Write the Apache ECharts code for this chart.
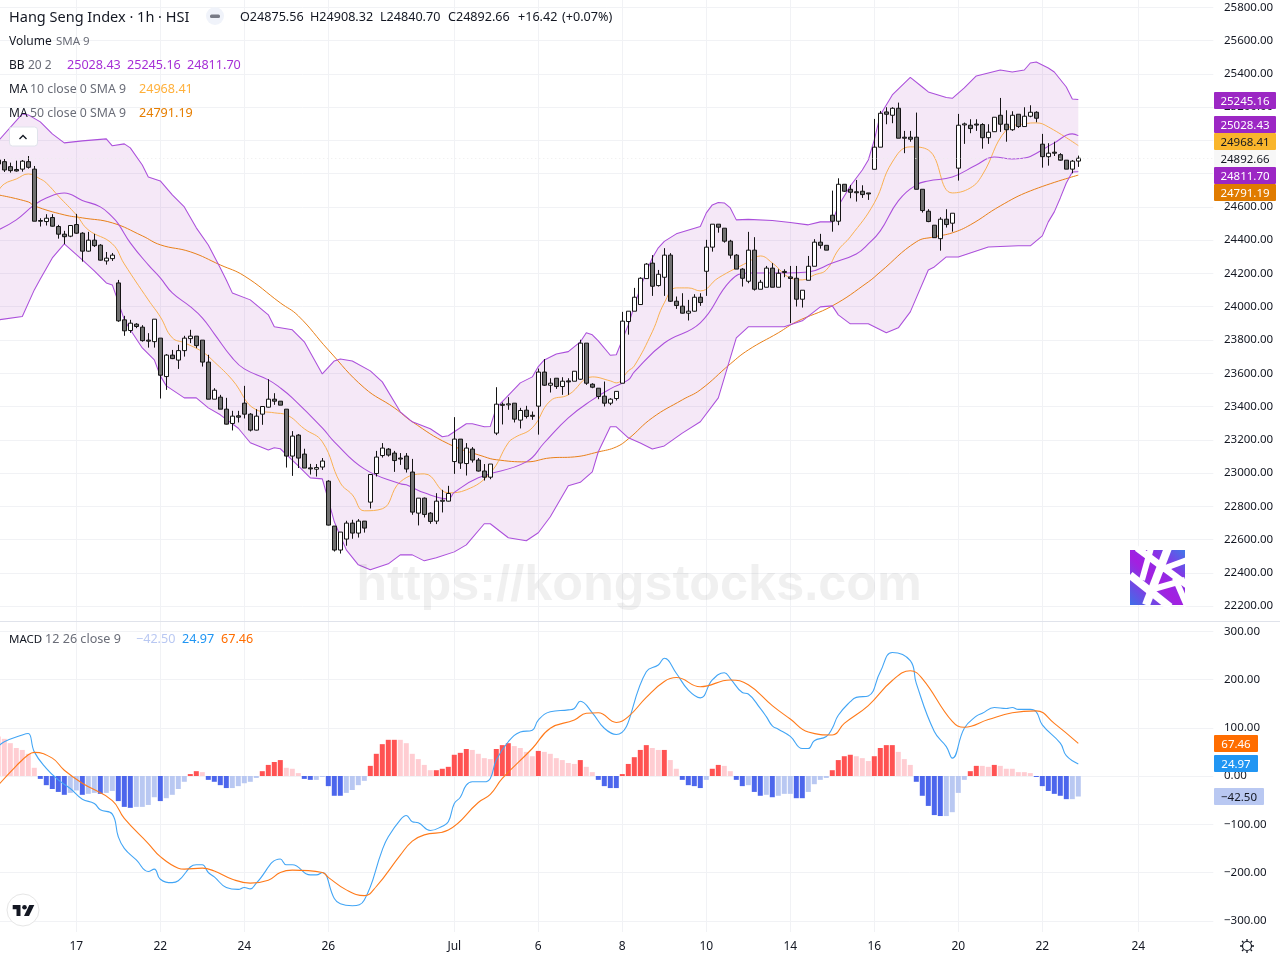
<!DOCTYPE html>
<html><head><meta charset="utf-8">
<style>html,body{margin:0;padding:0;background:#fff}#c{width:1280px;height:960px}</style>
<script src="https://cdn.jsdelivr.net/npm/echarts@6/dist/echarts.min.js"></script>
</head><body><div id="c"></div>
<script>
// [open, close, low, high]
const candles = [
[24882,24858,24846,24894],[24872,24822,24810,24888],[24842,24818,24806,24866],[24825,24816,24812,24878],[24827,24875,24812,24882],[24872,24838,24830,24906],
[24827,24514,24514,24846],[24518,24514,24482,24532],[24512,24532,24488,24556],[24536,24484,24482,24556],[24482,24436,24409,24492],[24436,24421,24376,24456],
[24424,24488,24418,24490],[24494,24442,24438,24558],[24442,24334,24271,24448],[24334,24400,24331,24450],[24400,24367,24359,24438],[24370,24280,24277,24376],
[24275,24292,24253,24329],[24289,24310,24275,24323],[24143,23915,23909,24161],[23921,23855,23825,23945],[23857,23901,23843,23921],[23895,23881,23871,23901],
[23877,23796,23790,23889],[23799,23793,23754,23841],[23790,23925,23754,23925],[23811,23588,23448,23811],[23580,23709,23500,23715],[23709,23688,23685,23740],
[23679,23736,23626,23771],[23736,23811,23700,23825],[23808,23823,23781,23861],[23823,23766,23751,23823],[23799,23667,23640,23799],[23667,23444,23444,23711],
[23444,23498,23444,23510],[23456,23384,23384,23470],[23384,23294,23292,23452],[23298,23342,23256,23374],[23344,23336,23304,23374],[23420,23354,23328,23524],
[23354,23258,23250,23360],[23258,23342,23256,23384],[23354,23400,23290,23400],[23396,23444,23394,23564],[23444,23432,23410,23480],[23432,23408,23408,23432],
[23384,23102,23033,23384],[23102,23222,22983,23252],[23228,23090,23030,23234],[23114,23030,23030,23146],[23031,23025,22991,23055],[23023,23033,22979,23054],
[23036,23072,23019,23090],[22951,22687,22685,22957],[22681,22537,22528,22681],[22537,22645,22516,22645],[22603,22699,22563,22713],[22699,22639,22605,22719],
[22639,22711,22612,22723],[22711,22669,22642,22711],[22825,22991,22787,22991],[22997,23096,22979,23133],[23105,23150,23093,23180],[23144,23108,23099,23150],
[23120,23075,23007,23133],[23090,23084,23049,23120],[23102,23024,23003,23120],[23006,22765,22749,23085],[22759,22849,22685,22849],[22849,22751,22733,22853],
[22759,22709,22695,22765],[22711,22831,22693,22879],[22830,22836,22763,22899],[22831,22877,22829,22923],[23069,23204,22995,23336],[23204,23060,23025,23204],
[23057,23150,22985,23180],[23144,23078,23063,23156],[23078,23012,23009,23090],[23012,22975,22955,23054],[22975,23054,22963,23054],[23240,23414,23228,23516],
[23407,23413,23292,23424],[23410,23416,23380,23456],[23420,23324,23304,23420],[23318,23376,23268,23392],[23378,23340,23328,23404],[23347,23341,23320,23370],
[23402,23607,23231,23628],[23607,23528,23524,23685],[23528,23540,23484,23570],[23570,23520,23506,23570],[23520,23552,23470,23576],[23554,23548,23470,23570],
[23552,23612,23552,23612],[23564,23781,23560,23801],[23781,23540,23530,23781],[23534,23516,23510,23540],[23510,23460,23444,23510],[23462,23420,23400,23550],
[23420,23444,23408,23450],[23448,23491,23436,23492],[23540,23913,23540,23969],[23911,23973,23832,23973],[23973,24057,23973,24113],[24013,24171,24011,24177],
[24169,24256,24169,24262],[24262,24123,24065,24310],[24127,24195,24121,24221],[24177,24310,24065,24352],[24310,24033,24029,24322],[24033,24007,23987,24061],
[24003,23961,23959,24081],[23961,23973,23917,24041],[23973,24057,23971,24075],[24057,24025,24005,24081],[24213,24358,24065,24402],[24358,24496,24331,24496],
[24496,24478,24445,24496],[24472,24394,24385,24472],[24394,24310,24289,24402],[24310,24226,24226,24316],[24226,24171,24121,24232],[24153,24340,24141,24450],
[24340,24105,24097,24418],[24105,24147,24105,24161],[24117,24232,24117,24245],[24232,24117,24117,24262],[24117,24201,24117,24225],[24212,24206,24177,24225],
[24179,24170,23901,24245],[24171,24045,24001,24245],[24045,24099,23995,24099],[24159,24243,24159,24305],[24243,24388,24243,24406],[24388,24369,24349,24438],
[24369,24340,24340,24369],[24550,24514,24451,24698],[24514,24736,24490,24772],[24736,24694,24690,24736],[24706,24688,24652,24732],[24691,24685,24632,24762],
[24694,24674,24654,24730],[24684,24678,24642,24684],[24826,24959,24826,25129],[24959,25163,24959,25177],[25171,25157,25097,25199],[25151,25193,25103,25199],
[25193,25013,25013,25227],[25019,25013,24923,25057],[25019,25007,24992,25057],[25019,24706,24706,25167],[24706,24578,24566,24706],[24574,24512,24508,24586],
[24490,24415,24415,24490],[24409,24526,24337,24538],[24526,24494,24476,24586],[24502,24562,24451,24562],[24833,25091,24758,25159],[25093,25099,24979,25107],
[25091,25071,25043,25127],[25098,25092,25057,25127],[25095,25016,24950,25103],[25016,25049,24979,25097],[25052,25139,25051,25139],[25151,25097,25051,25255],
[25097,25064,24992,25181],[25064,25151,25057,25175],[25157,25083,25075,25157],[25083,25145,25083,25199],[25145,25169,25139,25211],[25169,25133,25109,25175],
[24977,24902,24836,25039],[24902,24923,24848,24983],[24929,24923,24906,24992],[24914,24881,24878,24923],[24881,24827,24827,24881],[24827,24875,24802,24882],
[24875.56,24892.66,24840.70,24908.32]];

// Line readings as [bar index, value]
const bbUpper = [[0,24997],[4,25159],[5,25153],[7,25111],[9,25039],[11,24985],[14,24997],[17,25006],[18,25009],[19,24967],[21,24979],[22,24955],[24,24852],[25,24780],[27,24756],[29,24672],[31,24600],[33,24474],[35,24371],[37,24233],[38,24161],[39,24083],[42,24041],[44,23981],[45,23951],[46,23879],[49,23861],[51,23789],[54,23596],[56,23674],[57,23686],[59,23674],[62,23614],[64,23548],[67,23368],[69,23308],[72,23266],[74,23218],[75,23224],[78,23296],[79,23296],[81,23278],[82,23280],[83,23392],[87,23542],[89,23578],[90,23640],[91,23680],[93,23716],[95,23730],[97,23788],[98,23843],[99,23831],[100,23795],[102,23708],[103,23711],[104,23801],[105,23891],[106,24005],[107,24113],[108,24209],[109,24293],[110,24354],[111,24393],[113,24438],[117,24482],[118,24564],[119,24612],[120,24627],[121,24624],[122,24594],[123,24522],[125,24525],[129,24518],[132,24506],[135,24492],[137,24510],[139,24510],[140,24606],[142,24726],[144,24822],[145,24882],[146,25003],[147,25153],[148,25213],[149,25273],[152,25379],[154,25321],[155,25291],[158,25258],[159,25253],[161,25315],[163,25387],[167,25423],[169,25411],[171,25423],[172,25465],[173,25471],[175,25435],[176,25411],[178,25321],[179,25249],[180,25245.16]];
const bbLower = [[0,23921],[4,23941],[6,24101],[7,24167],[9,24293],[11,24378],[14,24281],[16,24215],[18,24143],[19,24131],[20,24029],[21,23921],[22,23861],[24,23752],[26,23680],[27,23584],[28,23524],[31,23452],[33,23452],[35,23392],[37,23350],[40,23269],[42,23182],[45,23139],[46,23152],[47,23146],[50,23043],[52,22971],[54,22965],[55,22839],[56,22707],[58,22538],[60,22448],[62,22418],[65,22454],[67,22508],[69,22508],[71,22472],[73,22490],[76,22526],[78,22568],[81,22695],[82,22695],[85,22611],[88,22593],[90,22641],[92,22737],[95,22923],[97,22944],[99,23007],[100,23128],[102,23278],[103,23278],[105,23212],[107,23181],[109,23145],[111,23163],[114,23240],[117,23308],[120,23452],[122,23692],[123,23813],[125,23879],[131,23879],[134,23915],[137,23999],[139,24005],[140,23951],[142,23897],[145,23897],[147,23861],[148,23843],[150,23873],[152,23969],[153,24053],[155,24221],[156,24239],[158,24299],[160,24299],[165,24359],[170,24367],[172,24366],[174,24426],[175,24510],[176,24570],[177,24654],[178,24744],[179,24810],[180,24811.70]];
const bbBasis = [[0,24462],[3,24522],[6,24612],[8,24654],[11,24684],[14,24639],[17,24600],[19,24540],[20,24498],[22,24384],[25,24251],[27,24173],[29,24083],[32,24000],[34,23933],[36,23837],[39,23692],[41,23626],[45,23560],[47,23512],[49,23452],[54,23272],[56,23188],[61,23025],[67,22935],[68,22929],[71,22881],[75,22845],[76,22884],[80,22971],[88,23067],[91,23182],[95,23332],[99,23440],[102,23506],[105,23560],[106,23608],[111,23782],[117,23903],[122,24155],[125,24203],[131,24203],[135,24209],[139,24263],[143,24317],[145,24377],[147,24456],[150,24636],[153,24732],[155,24756],[159,24780],[163,24852],[166,24900],[169,24888],[171,24894],[172,24903],[176,24985],[179,25039],[180,25028.43]];
const ma10 = [[0,24696],[1,24738],[3,24768],[5,24798],[7,24768],[8,24744],[10,24666],[13,24552],[15,24462],[19,24378],[21,24257],[25,24041],[27,23939],[29,23813],[31,23783],[34,23729],[36,23668],[39,23560],[43,23380],[46,23362],[48,23350],[51,23266],[54,23188],[57,22941],[59,22869],[61,22773],[64,22785],[67,22947],[71,22995],[75,22881],[78,22899],[82,23001],[85,23182],[86,23212],[89,23272],[92,23434],[95,23470],[99,23578],[102,23554],[103,23542],[105,23614],[106,23644],[109,23849],[111,24023],[113,24113],[115,24113],[117,24095],[120,24173],[125,24269],[127,24305],[129,24263],[132,24173],[134,24161],[136,24191],[138,24221],[140,24341],[142,24420],[146,24624],[149,24870],[152,24961],[155,24942],[159,24684],[162,24714],[164,24792],[168,25063],[171,25099],[173,25105],[175,25081],[180,24968.41]];
const ma50 = [[0,24672],[5,24630],[6,24606],[11,24552],[14,24534],[19,24504],[24,24426],[27,24372],[32,24330],[37,24251],[41,24185],[47,24023],[50,23945],[55,23740],[61,23512],[66,23392],[69,23308],[75,23176],[81,23098],[83,23080],[88,23067],[92,23091],[96,23097],[100,23127],[103,23157],[105,23205],[109,23332],[114,23440],[117,23500],[122,23656],[125,23740],[130,23843],[133,23909],[139,24005],[145,24149],[147,24209],[153,24390],[156,24420],[159,24444],[162,24492],[167,24606],[172,24696],[180,24791.19]];

const macdHist = [82,77,68,58,54,46,17,-6,-19,-27,-33,-39,-35,-30,-39,-37,-35,-37,-35,-31,-52,-64,-66,-64,-64,-60,-44,-52,-46,-39,-27,-12,4,10,8,-8,-12,-19,-25,-25,-21,-15,-12,-4,10,23,29,33,17,15,6,-6,-8,-8,-2,-21,-41,-41,-35,-29,-19,-10,21,46,66,75,75,75,68,46,35,23,12,12,15,19,44,48,56,54,46,37,35,56,64,68,62,58,50,41,52,50,46,37,33,27,25,33,19,8,-8,-21,-25,-25,4,25,39,54,64,58,54,54,33,15,-8,-19,-21,-25,-8,15,23,21,10,-8,-21,-19,-33,-41,-39,-44,-41,-37,-37,-46,-46,-33,-17,-8,-4,12,33,41,44,41,37,31,41,58,64,64,50,35,23,-12,-41,-62,-81,-83,-83,-75,-35,-8,10,21,21,19,23,21,15,15,8,8,6,-2,-21,-31,-37,-41,-48,-48,-42.5];
const histStrong = [7,8,9,10,11,14,17,20,21,22,27,32,33,35,36,37,38,44,45,46,47,51,52,55,56,57,62,63,64,65,66,73,74,75,76,77,78,83,84,85,90,97,100,101,102,103,104,105,106,107,108,111,114,115,116,117,119,120,123,124,126,127,129,133,134,139,140,141,142,146,147,148,149,153,154,155,156,157,162,163,166,173,174,175,176,177,178];
const macdLine = [[0,61],[1,71],[4,85],[5,88],[6,50],[8,16],[10,-8],[12,-26],[14,-48],[16,-57],[17,-70],[19,-79],[20,-126],[21,-150],[23,-174],[25,-198],[26,-193],[27,-214],[29,-221],[30,-217],[33,-184],[34,-184],[35,-200],[36,-209],[38,-231],[40,-235],[41,-231],[42,-234],[43,-222],[47,-172],[48,-184],[49,-184],[52,-205],[53,-205],[54,-200],[56,-254],[57,-265],[59,-269],[61,-257],[64,-153],[65,-126],[67,-91],[68,-82],[69,-95],[70,-97],[72,-113],[74,-104],[75,-95],[76,-57],[77,-44],[78,-19],[79,-12],[81,-12],[82,-5],[83,33],[85,71],[87,91],[89,95],[90,116],[92,133],[95,137],[96,140],[97,155],[99,131],[101,99],[103,86],[108,216],[110,230],[111,244],[113,213],[115,178],[117,162],[119,199],[121,214],[122,202],[124,173],[125,170],[127,140],[128,123],[129,104],[130,97],[132,82],[134,57],[135,57],[136,73],[138,82],[139,99],[140,126],[142,154],[143,163],[145,166],[147,216],[149,256],[152,239],[153,192],[156,92],[158,61],[159,37],[161,99],[163,124],[164,130],[166,142],[168,140],[169,142],[170,138],[172,138],[173,133],[174,106],[177,68],[178,42],[180,24.97]];
const macdSignal = [[0,-19],[3,21],[5,44],[6,49],[9,37],[11,12],[14,-15],[19,-51],[21,-88],[25,-140],[27,-167],[30,-191],[31,-193],[34,-191],[36,-197],[39,-214],[42,-222],[45,-216],[47,-200],[49,-195],[54,-200],[55,-210],[58,-236],[61,-248],[63,-229],[67,-164],[69,-135],[71,-122],[75,-112],[80,-55],[82,-38],[84,-5],[89,57],[92,99],[96,116],[98,130],[100,131],[103,111],[105,123],[108,163],[111,196],[113,204],[117,185],[122,199],[125,189],[129,146],[132,118],[135,91],[139,85],[141,109],[145,146],[149,198],[152,218],[154,202],[159,113],[161,101],[165,117],[169,131],[173,135],[176,109],[180,67.46]];

const tickBars = [13,27,41,55,76,90,104,118,132,146,160,174,190];
const tickLabels = ['17','22','24','26','Jul','6','8','10','14','16','20','22','24'];
const lastClose = 24892.66;
const barCount = 203;

const categories = Array.from({length:barCount},()=>'');
tickBars.forEach((b,i)=>{categories[b]=tickLabels[i];});
const isTick = new Set(tickBars);
const histData = macdHist.map((v,i)=>{
  const strong = histStrong.includes(i);
  const col = v>=0 ? (strong?'#ff5252':'#ffcdd2') : (strong?'#4c66ec':'#b9c8f2');
  return {value:v,itemStyle:{color:col}};
});

const FONT = '"Noto Sans"';
const INK = '#131722', GREY='#6a6d78';
const PURPLE='#a62fd6';
function txt(x,y,s,fill,size,opt){opt=opt||{};return {type:'text',z:50,silent:true,style:{x,y,text:s,fill,font:(opt.weight||'normal')+' '+size+'px '+FONT,align:opt.align||'left',verticalAlign:'middle'}};}
function chip(x,cy,w,bg,s,fill){return [
  {type:'rect',z:60,silent:true,shape:{x,y:cy-8.5,width:w,height:17,r:1},style:{fill:bg}},
  Object.assign(txt(x+w/2,cy+0.8,s,fill,11.5,{align:'center'}),{z:61})];}

const gfx = [
 {type:'line',z:40,silent:true,shape:{x1:0,y1:621.5,x2:1280,y2:621.5},style:{stroke:'#e0e3eb',lineWidth:1}},
 txt(9,17.5,'Hang Seng Index · 1h · HSI',INK,14.5),
 {type:'circle',z:50,silent:true,shape:{cx:215,cy:16,r:9},style:{fill:'#f0f3fa'}},
 {type:'rect',z:51,silent:true,shape:{x:210,y:14.5,width:10,height:3.5,r:1.5},style:{fill:'#787b86'}},
 txt(240,17.5,'O24875.56',INK,12.6), txt(310,17.5,'H24908.32',INK,12.6), txt(380,17.5,'L24840.70',INK,12.6), txt(448,17.5,'C24892.66',INK,12.6), txt(518,17.5,'+16.42',INK,12.6), txt(562,17.5,'(+0.07%)',INK,12.6),
 txt(9,41.5,'Volume',INK,12), txt(56,41.5,'SMA 9',GREY,11.5),
 txt(9,65.5,'BB',INK,12), txt(28,65.5,'20 2',GREY,12),
 txt(67,65.5,'25028.43',PURPLE,12.6), txt(127,65.5,'25245.16',PURPLE,12.6), txt(187,65.5,'24811.70',PURPLE,12.6),
 txt(9,89.5,'MA',INK,12), txt(30,89.5,'10 close 0 SMA 9',GREY,12.3), txt(139,89.5,'24968.41','#ffb03b',12.6),
 txt(9,113.5,'MA',INK,12), txt(30,113.5,'50 close 0 SMA 9',GREY,12.3), txt(139,113.5,'24791.19','#e67e00',12.6),
 txt(9,639.5,'MACD',INK,11.5), txt(45,639.5,'12 26 close 9',GREY,12.6),
 txt(136,639.5,'−42.50','#b9c8f2',12.6), txt(182,639.5,'24.97','#2196f3',12.6), txt(221,639.5,'67.46','#ff6d00',12.6),
 // chevron button
 {type:'rect',z:50,silent:true,shape:{x:9.5,y:127,width:28,height:19,r:3},style:{fill:'#fff',stroke:'#e0e3eb',lineWidth:1}},
 {type:'polyline',z:51,silent:true,shape:{points:[[19.5,139],[23,135.5],[26.5,139]]},style:{fill:'none',stroke:'#131722',lineWidth:1.3}},
 // TV logo
 {type:'circle',z:50,silent:true,shape:{cx:23,cy:910,r:16},style:{fill:'#fff',stroke:'#e6e6e6',lineWidth:1}},
 {type:'polygon',z:51,silent:true,shape:{points:[[12.7,905],[20,905],[20.5,905],[20.5,916],[16.5,916],[16.5,909.3],[12.7,909.3]]},style:{fill:'#131722'}},
 {type:'circle',z:51,silent:true,shape:{cx:24.5,cy:907.3,r:2.3},style:{fill:'#131722'}},
 {type:'polygon',z:51,silent:true,shape:{points:[[29.3,905],[34.3,905],[29,916],[24,916]]},style:{fill:'#131722'}},
 // gear
 {type:'circle',z:50,silent:true,shape:{cx:1247,cy:946,r:4.5},style:{fill:'none',stroke:'#131722',lineWidth:1.2}},
 ...[0,45,90,135,180,225,270,315].map(a=>{const r=a*Math.PI/180;return {type:'line',z:50,silent:true,shape:{x1:1247+5*Math.cos(r),y1:946+5*Math.sin(r),x2:1247+7*Math.cos(r),y2:946+7*Math.sin(r)},style:{stroke:'#131722',lineWidth:1.3}};}),
 // watermark
 {type:'text',z:45,silent:true,style:{x:639,y:586.5,text:'https://kongstocks.com',fill:'rgba(60,60,60,0.08)',font:'bold 50.4px "Liberation Sans"',align:'center',verticalAlign:'middle'}},
 // square badge
 {type:'rect',z:45,silent:true,shape:{x:1130,y:550,width:55,height:55},style:{fill:{type:'linear',x:0,y:1,x2:1,y2:0,colorStops:[{offset:0,color:'#3f6fe8'},{offset:.45,color:'#a41fe0'},{offset:.7,color:'#8a30e6'},{offset:1,color:'#3f78e8'}]}}},
 ...[[1137,548,1187,585,7],[1130,575,1170,607,8],[1151,548,1142,580,6],[1168,548,1146,605,8],[1160,570,1187,560,6],[1175,578,1187,606,6],[1150,590,1185,580,6]].map(a=>({type:'line',z:46,silent:true,shape:{x1:a[0],y1:a[1],x2:a[2],y2:a[3]},style:{stroke:'#fff',lineWidth:a[4]}})),
 ...chip(1214,100.5,62,'#9c27c4','25245.16','#fff'),
 ...chip(1214,124.5,62,'#9c27c4','25028.43','#fff'),
 ...chip(1214,141.5,62,'#f9b52c','24968.41','#131722'),
 ...chip(1214,158.5,62,'#f7f7f7','24892.66','#131722'),
 ...chip(1214,175.5,62,'#9c27c4','24811.70','#fff'),
 ...chip(1214,192.5,62,'#e07b00','24791.19','#fff'),
 ...chip(1214,743.5,44,'#ff6d00','67.46','#fff'),
 ...chip(1214,763.5,44,'#2196f3','24.97','#fff'),
 ...chip(1214,796.5,50,'#b9c8f2','−42.50','#131722')
];

const GRID='#f1f2f5';
const yLabel = {color:INK,fontFamily:FONT,fontSize:11.5,margin:10.7,align:'left',padding:[2,0,0,0],showMinLabel:true,showMaxLabel:true,hideOverlap:false};
function mkLine(data,color,width,yA,xA,z,op,sm){return {type:'line',data,xAxisIndex:xA,yAxisIndex:yA,showSymbol:false,symbol:'none',smooth:sm?0.45:false,z:z,silent:true,animation:false,lineStyle:{color,width,opacity:op||1}};}

const chart = echarts.init(document.getElementById('c'),null,{renderer:'canvas'});
chart.setOption({
 animation:false,backgroundColor:'#fff',
 grid:[
  {left:-4.7,width:1218,top:0,height:932,outerBoundsMode:'none'},
  {left:-4.7,width:1218,top:7.3,height:598.8,outerBoundsMode:'none'},
  {left:-4.7,width:1218,top:631.25,height:289.5,outerBoundsMode:'none'}
 ],
 xAxis:[
  {type:'category',gridIndex:0,data:categories,boundaryGap:true,axisLine:{show:false},axisTick:{show:false},
   axisLabel:{color:INK,fontFamily:FONT,fontSize:12,margin:9,interval:(i)=>isTick.has(i),hideOverlap:false},
   splitLine:{show:true,alignWithLabel:true,interval:(i)=>isTick.has(i),lineStyle:{color:GRID,width:1}}},
  {type:'category',gridIndex:1,data:categories,boundaryGap:true,show:false},
  {type:'category',gridIndex:2,data:categories,boundaryGap:true,show:false}
 ],
 yAxis:[
  {type:'value',gridIndex:0,min:0,max:1,show:false},
  {type:'value',gridIndex:1,position:'right',min:22200,max:25800,interval:200,axisLine:{show:false},axisTick:{show:false},
   axisLabel:Object.assign({},yLabel,{formatter:v=>v.toFixed(2)}),splitLine:{show:true,lineStyle:{color:GRID,width:1}}},
  {type:'value',gridIndex:2,position:'right',min:-300,max:300,interval:100,axisLine:{show:false},axisTick:{show:false},
   axisLabel:Object.assign({},yLabel,{formatter:v=>v.toFixed(2).replace('-','−')}),splitLine:{show:true,lineStyle:{color:GRID,width:1}}}
 ],
 series:[
  {type:'custom',xAxisIndex:1,yAxisIndex:1,coordinateSystem:'cartesian2d',silent:true,z:2,data:[[0,24000]],encode:{x:0,y:1},
   renderItem:(p,api)=>{
     const pts=bbUpper.map(d=>api.coord(d)).concat(bbLower.slice().reverse().map(d=>api.coord(d)));
     return {type:'polygon',shape:{points:pts},style:{fill:'rgba(156,39,176,0.105)'}};
   }},
  mkLine(ma50,'#e8801a',1,1,1,3,1,true),
  mkLine(ma10,'#f9b052',1,1,1,3,1,true),
  mkLine(bbBasis,'#ab4fdb',1.05,1,1,3,1,true),
  mkLine(bbUpper,'#ab4fdb',1.05,1,1,3,1),
  mkLine(bbLower,'#ab4fdb',1.05,1,1,3,1),
  {type:'candlestick',xAxisIndex:1,yAxisIndex:1,data:candles,barWidth:5,z:5,silent:true,
   itemStyle:{color:'#ffffff',color0:'#707070',borderColor:'#141414',borderColor0:'#141414',borderWidth:1},
   markLine:{silent:true,symbol:'none',label:{show:false},z:6,lineStyle:{color:'#ececec',type:[1,3],width:1},data:[{yAxis:lastClose}]}},
  {type:'bar',xAxisIndex:2,yAxisIndex:2,data:histData,barWidth:5,z:2,silent:true},
  mkLine(macdLine,'#42a5f5',1.1,2,2,3,1,true),
  mkLine(macdSignal,'#ff7a1a',1.1,2,2,3,1,true)
 ],
 graphic:gfx
});
</script></body></html>
